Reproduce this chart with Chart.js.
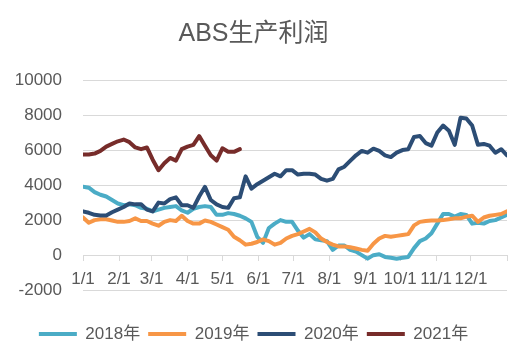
<!DOCTYPE html>
<html>
<head>
<meta charset="utf-8">
<script src="https://cdn.jsdelivr.net/npm/chart.js@4.4.1/dist/chart.umd.min.js"></script>
<style>
  html, body { margin: 0; padding: 0; background: #fff; }
  #wrap { width: 530px; height: 361px; }
</style>
</head>
<body>
<div id="wrap"><canvas id="absChart"></canvas></div>
<script>
// readings every 5 days from 1/1, day 0 .. 365
var dayStep = 5;
var seriesNames = ["2018年", "2019年", "2020年", "2021年"];
var monthDays = [0, 31, 59, 90, 120, 151, 181, 212, 243, 273, 304, 334, 365];
var monthLabels = ["1/1", "2/1", "3/1", "4/1", "5/1", "6/1", "7/1", "8/1", "9/1", "10/1", "11/1", "12/1", ""];
var yTicks = [-2000, 0, 2000, 4000, 6000, 8000, 10000];

var y2018 = [3900, 3850, 3600, 3450, 3350, 3150, 2950, 2850, 2900, 2850,
             2700, 2650, 2500, 2600, 2700, 2750, 2800, 2550, 2420, 2650,
             2750, 2800, 2750, 2300, 2300, 2400, 2350, 2250, 2100, 1900,
             1050, 700, 1550, 1800, 2000, 1900, 1900, 1400, 1000, 1200,
             900, 850, 800, 300, 550, 550, 300, 200, 0, -200,
             0, 50, -100, -150, -200, -150, -100, 400, 800, 950,
             1250, 1800, 2350, 2350, 2200, 2350, 2300, 1800, 1850, 1800,
             1950, 2000, 2150, 2300];
var y2019 = [2150, 1850, 2000, 2050, 2050, 1980, 1900, 1900, 1950, 2100,
             1950, 1950, 1800, 1680, 1900, 2000, 1950, 2250, 1950, 1800,
             1800, 1980, 1900, 1750, 1600, 1450, 1050, 850, 600, 650,
             750, 900, 800, 600, 700, 950, 1100, 1200, 1350, 1500,
             1300, 950, 750, 600, 500, 500, 450, 380, 300, 250,
             650, 950, 1100, 1050, 1100, 1150, 1200, 1700, 1900, 1950,
             1980, 1980, 2000, 2050, 2100, 2100, 2200, 2250, 1900, 2150,
             2250, 2300, 2350, 2500];
var y2020 = [2500, 2420, 2300, 2270, 2270, 2450, 2600, 2750, 2950, 2900,
             2900, 2600, 2500, 3000, 2950, 3200, 3300, 2850, 2850, 2700,
             3350, 3900, 3150, 2900, 2750, 2700, 3250, 3300, 4500, 3800,
             4050, 4250, 4450, 4650, 4500, 4850, 4850, 4600, 4650, 4650,
             4600, 4350, 4250, 4350, 4900, 5050, 5380, 5700, 5950, 5850,
             6080, 5950, 5700, 5600, 5850, 6000, 6050, 6750, 6800, 6400,
             6250, 7000, 7400, 7100, 6300, 7850, 7800, 7400, 6300, 6350,
             6250, 5850, 6050, 5700];
var y2021 = [5750, 5750, 5800, 5950, 6200, 6350, 6500, 6600, 6450, 6150,
             6050, 6150, 5450, 4850, 5250, 5550, 5400, 6050, 6200, 6300,
             6800, 6250, 5700, 5400, 6100, 5900, 5900, 6050];

var colors = ["#4BACC6", "#F79646", "#2C4D75", "#772C2A"];

function toPoints(values) {
    return values.map(function (v, i) {
        return { x: Math.min(i * dayStep, 365), y: v };
    });
}

Chart.defaults.font.family = "'Liberation Sans', 'Noto Sans CJK SC', sans-serif";
Chart.defaults.font.size = 17;
Chart.defaults.color = "#595959";

var allSeries = [y2018, y2019, y2020, y2021];
var datasets = [];
for (var i = 0; i < allSeries.length; i++) {
    datasets.push({
        label: seriesNames[i],
        data: toPoints(allSeries[i]),
        borderColor: colors[i],
        backgroundColor: colors[i],
        borderWidth: 4,
        borderCapStyle: "round",
        borderJoinStyle: "round",
        pointRadius: 0,
        pointStyle: "line",
        tension: 0,
        fill: false,
        order: allSeries.length - i
    });
}

new Chart(document.getElementById("absChart"), {
    type: "line",
    data: { datasets: datasets },
    options: {
        responsive: true,
        maintainAspectRatio: false,
        animation: false,
        layout: { padding: { left: 0, right: 23, top: 0, bottom: 8.5 } },
        plugins: {
            tooltip: { enabled: false },
            title: {
                display: true,
                text: "ABS生产利润",
                color: "#595959",
                font: { size: 25, weight: "normal" },
                padding: { top: 19.5, bottom: 30.5 }
            },
            legend: {
                position: "bottom",
                labels: {
                    usePointStyle: true,
                    pointStyleWidth: 38,
                    padding: 8,
                    color: "#595959",
                    sort: function (a, b) { return a.datasetIndex - b.datasetIndex; }
                }
            }
        },
        scales: {
            x: {
                type: "linear",
                axis: "x",
                position: { y: 0 },
                min: 0,
                max: 365,
                afterBuildTicks: function (scale) {
                    scale.ticks = monthDays.map(function (d) { return { value: d }; });
                },
                ticks: {
                    autoSkip: false,
                    maxRotation: 0,
                    padding: 9,
                    callback: function (value) {
                        var k = monthDays.indexOf(value);
                        return k >= 0 ? monthLabels[k] : "";
                    }
                },
                grid: {
                    drawOnChartArea: false,
                    drawTicks: true,
                    tickLength: 5,
                    color: "#D9D9D9"
                },
                border: { display: true, color: "#D9D9D9", width: 1 }
            },
            y: {
                min: -3560,
                max: 10000,
                afterBuildTicks: function (scale) {
                    scale.ticks = yTicks.map(function (v) { return { value: v }; });
                },
                afterFit: function (scale) {
                    scale.width = 83;
                },
                ticks: {
                    padding: 21,
                    callback: function (value) { return String(value); }
                },
                grid: { color: "#D9D9D9", drawTicks: false },
                border: { display: false }
            }
        }
    }
});
</script>
</body>
</html>
